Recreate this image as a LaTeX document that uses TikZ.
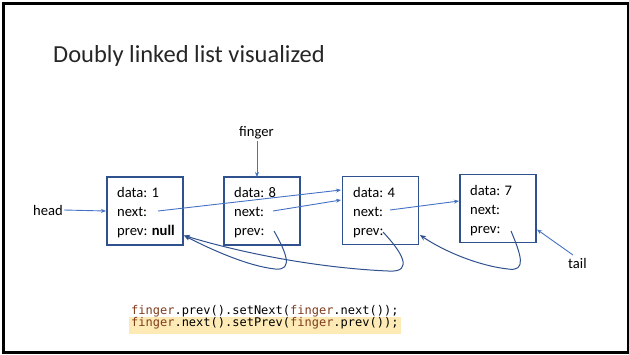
\documentclass[tikz,border=0pt]{standalone}
\usepackage{fontspec}
\setmainfont{Carlito}
\newfontfamily\codefont{DejaVu Sans Mono}
\usetikzlibrary{arrows.meta}
\definecolor{boxblue}{RGB}{47,82,143}
\definecolor{arrblue}{RGB}{68,114,196}
\definecolor{curveblue}{RGB}{47,82,143}
\definecolor{codebrown}{RGB}{128,60,30}
\definecolor{hilite}{RGB}{253,234,180}
\tikzset{
  listbox/.style={draw=boxblue, line width=1.1pt, minimum width=76pt, minimum height=68pt, inner sep=0pt},
  lbl/.style={anchor=base west, inner sep=0pt, font=\fontsize{14.6}{16}\selectfont},
  ptr/.style={draw=arrblue, line width=0.9pt, -{Stealth[length=5pt,width=4pt]}},
  back/.style={draw=curveblue, line width=1pt, -{Stealth[length=6pt,width=5pt]}},
  codeline/.style={anchor=base west, inner sep=0pt, font=\codefont\fontsize{12}{12}\selectfont}
}
\newcommand{\fg}{\textcolor{codebrown}{finger}}
\begin{document}
\begin{tikzpicture}[x=1pt,y=-1pt]
\useasboundingbox (0,0) rectangle (629,354);
\draw[black, line width=2.5pt] (3.5,3.5) rectangle (628,352.5);
% title
\node[anchor=base west, inner sep=0pt, font=\fontsize{24.5}{28}\selectfont, text=black!85] (title) at (53,62) {Doubly linked list visualized};
% boxes
\node[listbox] (b1) at (145,211) {};
\node[listbox] (b2) at (262,211) {};
\node[listbox] (b3) at (380.5,210.5) {};
\node[listbox] (b4) at (498,208.5) {};
% box texts
\node[lbl] (d1) at (117,197) {data: 1};
\node[lbl] (n1) at (117,216) {next:};
\node[lbl] (p1) at (117,235) {prev: \textbf{null}};
\node[lbl] (d2) at (234,197) {data: 8};
\node[lbl] (n2) at (234,216) {next:};
\node[lbl] (p2) at (234,235) {prev:};
\node[lbl] (d3) at (353,197) {data: 4};
\node[lbl] (n3) at (353,216) {next:};
\node[lbl] (p3) at (353,235) {prev:};
\node[lbl] (d4) at (470,195) {data: 7};
\node[lbl] (n4) at (470,214) {next:};
\node[lbl] (p4) at (470,233) {prev:};
% labels
\node[lbl] (head) at (33,215) {head};
\node[lbl] (finger) at (239,136) {finger};
\node[lbl] (tail) at (568,268) {tail};
% pointer endpoints
\coordinate (hs) at (64,210);
\coordinate (ht) at (106,211);
\coordinate (fs) at (257,141);
\coordinate (ft) at (257,177);
\coordinate (ts) at (573,255);
\coordinate (tt) at (537,229.5);
\coordinate (n1s) at (158,211);
\coordinate (n2s) at (273,211);
\coordinate (n3s) at (390,210);
\coordinate (t3a) at (341,190);
\coordinate (t3b) at (341,200);
\coordinate (t4a) at (459,201);
\coordinate (p1t) at (184,235.5);
\coordinate (p3t) at (420,235);
\coordinate (p2s) at (274,231);
\coordinate (p3s) at (383,232);
\coordinate (p4s) at (511,231);
% straight pointers
\draw[ptr] (hs) -- (ht);
\draw[ptr] (fs) -- (ft);
\draw[ptr] (n1s) -- (t3a);
\draw[ptr] (n2s) -- (t3b);
\draw[ptr] (n3s) -- (t4a);
\draw[ptr] (ts) -- (tt);
% prev curves
\draw[back] (p2s) .. controls (286,252) and (294,271) .. (275,269) .. controls (248,266) and (212,250) .. (p1t);
\draw[back] (p3s) .. controls (400,250) and (416,273) .. (388,271) .. controls (320,268) and (245,254) .. (p1t);
\draw[back] (p4s) .. controls (521,255) and (527,272) .. (508,269) .. controls (480,266) and (445,252) .. (p3t);
% code
\fill[hilite] (129,317) rectangle (401,333.5);
\node[codeline] (c1) at (131,314) {\fg.prev().setNext(\fg.next());};
\node[codeline] (c2) at (131,326) {\fg.next().setPrev(\fg.prev());};
\end{tikzpicture}
\end{document}
